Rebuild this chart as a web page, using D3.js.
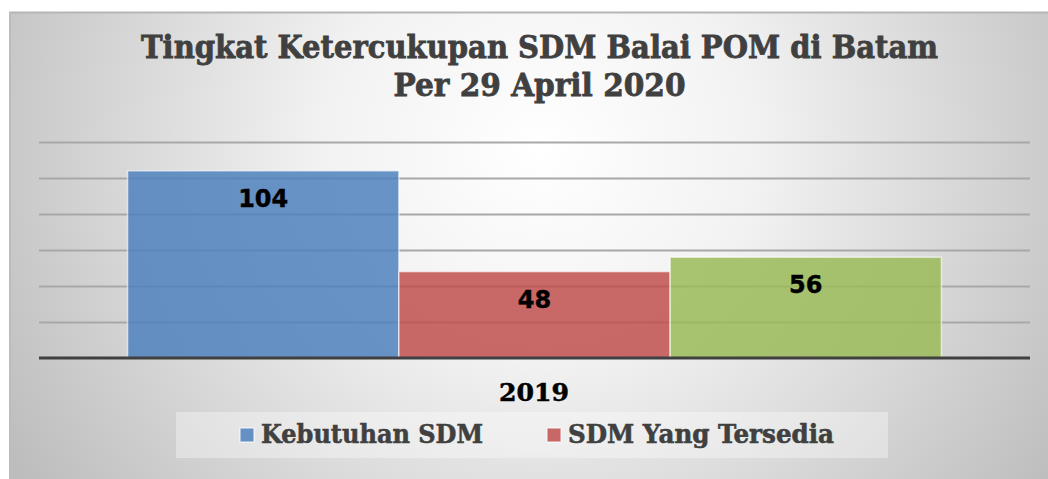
<!DOCTYPE html>
<html>
<head>
<meta charset="utf-8">
<script src="https://cdn.jsdelivr.net/npm/d3@7"></script>
<style>
    html, body { margin: 0; padding: 0; background: #ffffff; }
    svg { display: block; }
</style>
</head>
<body>
<div id="chart"></div>
<script>
// chart data
var categories = ['2019'];
var seriesKeys = ['Kebutuhan SDM', 'SDM Yang Tersedia', 'Kekurangan SDM'];
var seriesValues = [104, 48, 56];
var seriesColors = ['#4f81bd', '#c0504d', '#9bbb59'];
var legendNames = ['Kebutuhan SDM', 'SDM Yang Tersedia'];
var yTicks = [0, 20, 40, 60, 80, 100, 120];
var titleLines = ['Tingkat Ketercukupan SDM Balai POM di Batam', 'Per 29 April 2020'];

var width = 1048, height = 479;
var plotLeft = 39, plotRight = 1030;
var plotTop = 142, plotBottom = 358;
var serifFont = '"DejaVu Serif", "Liberation Serif", serif';
var sansFont = '"DejaVu Sans", Verdana, sans-serif';

var svg = d3.select('#chart')
    .append('svg')
    .attr('width', width)
    .attr('height', height)
    .attr('viewBox', '0 0 ' + width + ' ' + height);

var defs = svg.append('defs');
var grad = defs.append('radialGradient')
    .attr('id', 'bg')
    .attr('gradientUnits', 'userSpaceOnUse')
    .attr('cx', 540).attr('cy', 150)
    .attr('r', 620)
    .attr('gradientTransform', 'translate(540,150) scale(1,0.95) translate(-540,-150)');
grad.append('stop').attr('offset', '0%').attr('stop-color', '#ffffff');
grad.append('stop').attr('offset', '35%').attr('stop-color', '#f2f2f2');
grad.append('stop').attr('offset', '100%').attr('stop-color', '#bdbdbd');

// chart frame
svg.append('rect')
    .attr('x', 9).attr('y', 12)
    .attr('width', width - 9).attr('height', height - 12)
    .attr('fill', 'url(#bg)');
svg.append('line')
    .attr('x1', 9).attr('x2', width)
    .attr('y1', 12.5).attr('y2', 12.5)
    .attr('stroke', '#b5b5b5').attr('stroke-width', 2);
svg.append('line')
    .attr('x1', 10).attr('x2', 10)
    .attr('y1', 12).attr('y2', height)
    .attr('stroke', '#bcbcbc').attr('stroke-width', 2);

// scales
var y = d3.scaleLinear().domain([0, 120]).range([plotBottom, plotTop]);
var x0 = d3.scaleBand().domain(categories).range([plotLeft, plotRight]).padding(0);
var x1 = d3.scaleBand().domain(seriesKeys)
    .range([0, x0.bandwidth()])
    .paddingInner(0)
    .paddingOuter(0.3265);

// gridlines
var yAxis = d3.axisLeft(y)
    .tickValues(yTicks.slice(1))
    .tickSize(-(plotRight - plotLeft))
    .tickFormat('');
var grid = svg.append('g')
    .attr('transform', 'translate(' + plotLeft + ',0)')
    .call(yAxis);
grid.select('.domain').remove();
grid.selectAll('.tick line')
    .attr('stroke', '#a8a8a8')
    .attr('stroke-width', 2);

// bars
var group = svg.append('g')
    .attr('transform', function() { return 'translate(' + x0(categories[0]) + ',0)'; });

group.selectAll('rect.bar')
    .data(seriesKeys)
    .enter()
    .append('rect')
    .attr('class', 'bar')
    .attr('x', function(d) { return x1(d); })
    .attr('y', function(d, i) { return y(seriesValues[i]); })
    .attr('width', x1.bandwidth())
    .attr('height', function(d, i) { return y(0) - y(seriesValues[i]); })
    .attr('fill', function(d, i) { return seriesColors[i]; })
    .attr('fill-opacity', 0.85)
    .attr('stroke', '#ffffff')
    .attr('stroke-opacity', 0.6)
    .attr('stroke-width', 1.5);

group.selectAll('text.label')
    .data(seriesKeys)
    .enter()
    .append('text')
    .attr('class', 'label')
    .attr('x', function(d) { return x1(d) + x1.bandwidth() / 2; })
    .attr('y', function(d, i) { return y(seriesValues[i]) + 36; })
    .attr('text-anchor', 'middle')
    .attr('font-family', sansFont)
    .attr('font-weight', 'bold')
    .attr('font-size', 24)
    .attr('fill', '#000000')
    .attr('stroke', '#000000')
    .attr('stroke-width', 0.4)
    .text(function(d, i) { return seriesValues[i]; });

// x axis baseline
svg.append('line')
    .attr('x1', plotLeft).attr('x2', plotRight)
    .attr('y1', y(0)).attr('y2', y(0))
    .attr('stroke', '#404040')
    .attr('stroke-width', 3);

// category label
svg.append('text')
    .attr('x', x0(categories[0]) + x0.bandwidth() / 2 - 0.5)
    .attr('y', 401)
    .attr('text-anchor', 'middle')
    .attr('font-family', serifFont)
    .attr('font-weight', 'bold')
    .attr('font-size', 24)
    .attr('textLength', 70)
    .attr('lengthAdjust', 'spacingAndGlyphs')
    .attr('fill', '#000000')
    .attr('stroke', '#000000')
    .attr('stroke-width', 0.5)
    .text(categories[0]);

// title
var titleWidths = [797, 292];
var titleBase = [58, 96];
svg.selectAll('text.title')
    .data(titleLines)
    .enter()
    .append('text')
    .attr('class', 'title')
    .attr('x', 539.5)
    .attr('y', function(d, i) { return titleBase[i]; })
    .attr('text-anchor', 'middle')
    .attr('font-family', serifFont)
    .attr('font-weight', 'bold')
    .attr('font-size', 31)
    .attr('textLength', function(d, i) { return titleWidths[i]; })
    .attr('lengthAdjust', 'spacingAndGlyphs')
    .attr('fill', '#404040')
    .attr('stroke', '#404040')
    .attr('stroke-width', 0.8)
    .text(function(d) { return d; });

// legend
svg.append('rect')
    .attr('x', 176).attr('y', 412)
    .attr('width', 712).attr('height', 46)
    .attr('fill', '#ffffff')
    .attr('fill-opacity', 0.35);

var legendX = [240, 547];
var legendTextW = [222, 266];
var legend = svg.selectAll('g.legend')
    .data(legendNames)
    .enter()
    .append('g')
    .attr('class', 'legend')
    .attr('transform', function(d, i) { return 'translate(' + legendX[i] + ',428)'; });

legend.append('rect')
    .attr('width', 14).attr('height', 14)
    .attr('fill', function(d, i) { return seriesColors[i]; })
    .attr('fill-opacity', 0.85)
    .attr('stroke', '#ffffff')
    .attr('stroke-opacity', 0.6)
    .attr('stroke-width', 1.5);

legend.append('text')
    .attr('x', 21)
    .attr('y', 15)
    .attr('font-family', serifFont)
    .attr('font-weight', 'bold')
    .attr('font-size', 26)
    .attr('textLength', function(d, i) { return legendTextW[i]; })
    .attr('lengthAdjust', 'spacingAndGlyphs')
    .attr('fill', '#404040')
    .attr('stroke', '#404040')
    .attr('stroke-width', 0.6)
    .text(function(d) { return d; });
</script>
</body>
</html>
